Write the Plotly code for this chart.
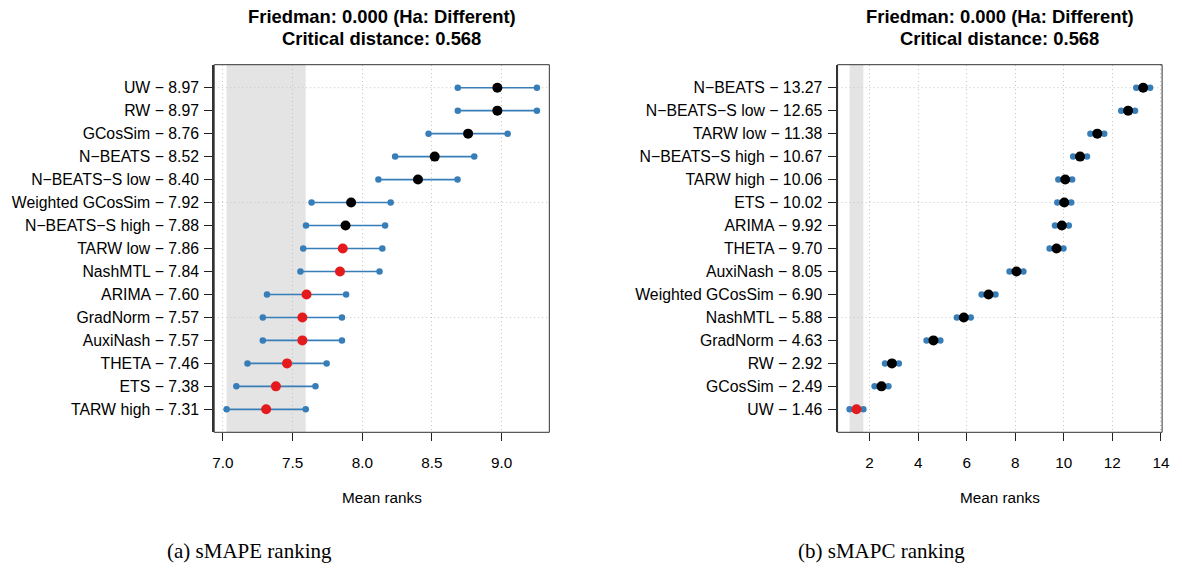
import plotly.graph_objects as go

# ---- data ----
critical_distance = 0.568
friedman_p = 0.000

smape_methods = ["UW", "RW", "GCosSim", "N-BEATS", "N-BEATS-S low", "Weighted GCosSim",
                 "N-BEATS-S high", "TARW low", "NashMTL", "ARIMA", "GradNorm", "AuxiNash",
                 "THETA", "ETS", "TARW high"]
smape_ranks = [8.97, 8.97, 8.76, 8.52, 8.40, 7.92, 7.88, 7.86, 7.84, 7.60, 7.57, 7.57,
               7.46, 7.38, 7.31]

smapc_methods = ["N-BEATS", "N-BEATS-S low", "TARW low", "N-BEATS-S high", "TARW high",
                 "ETS", "ARIMA", "THETA", "AuxiNash", "Weighted GCosSim", "NashMTL",
                 "GradNorm", "RW", "GCosSim", "UW"]
smapc_ranks = [13.27, 12.65, 11.38, 10.67, 10.06, 10.02, 9.92, 9.70, 8.05, 6.90, 5.88,
               4.63, 2.92, 2.49, 1.46]

captions = ["(a) sMAPE ranking", "(b) sMAPC ranking"]
x_dticks = [0.5, 2]
x_formats = [".1f", "d"]

# ---- style ----
W, H = 1182, 571
BLUE = "#377EB8"
RED = "#E41A1C"
BLACK = "#000000"
GRID = "#c4c4c4"
GRID_DASH = "1px,3px"
BAND = "#e4e4e4"
SANS = "Liberation Sans, Arial, sans-serif"
SERIF = "Liberation Serif, Times New Roman, serif"
TICK_SIZE = 15.3
YTICK_SIZE = 15.8
TITLE_SIZE = 18.4

px_domains = [(214, 552), (842.7, 1170)]
plot_top, plot_bottom = 64.7, 432.3
y_domain = [1 - plot_bottom / H, 1 - plot_top / H]
caption_x = [250, 887]

panels = [(smape_methods, smape_ranks), (smapc_methods, smapc_ranks)]

fig = go.Figure()
layout_updates = {}
shapes = []
annotations = []

for k, (methods, ranks) in enumerate(panels):
    sfx = "" if k == 0 else str(k + 1)
    xa, ya = "x" + sfx, "y" + sfx
    n = len(ranks)
    ypos = [n - i for i in range(n)]
    half = critical_distance / 2
    lo = [r - half for r in ranks]
    hi = [r + half for r in ranks]
    best = min(ranks)
    colors = [RED if (r - best) < critical_distance else BLACK for r in ranks]
    labels = [f"{m.replace('-', '−')} − {r:.2f}" for m, r in zip(methods, ranks)]

    # whiskers
    wx, wy = [], []
    for a, b, yy in zip(lo, hi, ypos):
        wx += [a, b, None]
        wy += [yy, yy, None]
    fig.add_trace(go.Scatter(x=wx, y=wy, mode="lines", line=dict(color=BLUE, width=1.6),
                             xaxis=xa, yaxis=ya, showlegend=False, hoverinfo="skip"))
    fig.add_trace(go.Scatter(x=lo + hi, y=ypos + ypos, mode="markers",
                             marker=dict(color=BLUE, size=6.5), xaxis=xa, yaxis=ya,
                             showlegend=False, hoverinfo="skip"))
    fig.add_trace(go.Scatter(x=ranks, y=ypos, mode="markers",
                             marker=dict(color=colors, size=10), xaxis=xa, yaxis=ya,
                             showlegend=False, text=methods))

    xmin, xmax = min(lo), max(hi)
    pad = 0.04 * (xmax - xmin)
    d0, d1 = px_domains[k]
    layout_updates["xaxis" + sfx] = dict(
        domain=[d0 / W, d1 / W], range=[xmin - pad, xmax + pad], anchor=ya,
        tickmode="linear", tick0=0, dtick=x_dticks[k], tickformat=x_formats[k],
        ticks="outside", ticklen=8, tickwidth=1.3, tickcolor="#222",
        ticklabelstandoff=8,
        showgrid=True, griddash=GRID_DASH, gridcolor=GRID, gridwidth=1,
        zeroline=False, showline=False,
        tickfont=dict(family=SANS, size=TICK_SIZE, color="#000"))
    layout_updates["yaxis" + sfx] = dict(
        domain=y_domain, range=[0, n + 1], anchor=xa,
        tickmode="array", tickvals=ypos, ticktext=labels,
        ticks="outside", ticklen=8, tickwidth=1.3, tickcolor="#222",
        ticklabelstandoff=2,
        showgrid=False, zeroline=False, showline=True, linewidth=2, linecolor="#333",
        tickfont=dict(family=SANS, size=YTICK_SIZE, color="#000"))

    # critical-distance band around the best method
    shapes.append(dict(type="rect", xref=xa, yref=ya + " domain", x0=best - half,
                       x1=best + half, y0=0, y1=1, fillcolor=BAND,
                       line=dict(width=0), layer="below"))
    # horizontal dotted grid
    for gy in range(0, n + 1, 5):
        shapes.append(dict(type="line", xref=xa + " domain", yref=ya, x0=0, x1=1,
                           y0=gy, y1=gy, line=dict(color=GRID, width=1, dash=GRID_DASH),
                           layer="below"))
    # plot box
    shapes.append(dict(type="rect", xref=xa + " domain", yref=ya + " domain", x0=0, x1=1,
                       y0=0, y1=1, line=dict(color="#333", width=1), layer="above"))

    cx = (d0 + d1) / 2 / W
    annotations += [
        dict(text=f"<b>Friedman: {friedman_p:.3f} (Ha: Different)</b>", x=cx, y=1 - 17 / H,
             xref="paper", yref="paper", showarrow=False, xanchor="center",
             yanchor="middle", font=dict(family=SANS, size=TITLE_SIZE, color="#000")),
        dict(text=f"<b>Critical distance: {critical_distance:.3f}</b>", x=cx, y=1 - 39 / H,
             xref="paper", yref="paper", showarrow=False, xanchor="center",
             yanchor="middle", font=dict(family=SANS, size=TITLE_SIZE, color="#000")),
        dict(text="Mean ranks", x=cx, y=1 - 497 / H, xref="paper", yref="paper",
             showarrow=False, xanchor="center", yanchor="middle",
             font=dict(family=SANS, size=TICK_SIZE, color="#000")),
        dict(text=captions[k], x=caption_x[k] / W, y=1 - 551 / H, xref="paper",
             yref="paper", showarrow=False, xanchor="center", yanchor="middle",
             font=dict(family=SERIF, size=21, color="#000")),
    ]

fig.update_layout(width=W, height=H, margin=dict(l=0, r=0, t=0, b=0),
                  paper_bgcolor="white", plot_bgcolor="white",
                  shapes=shapes, annotations=annotations, showlegend=False,
                  **layout_updates)
fig.write_html("out.html", config={"displayModeBar": False},
               post_script="document.body.style.margin='0';document.body.style.overflow='hidden';")
